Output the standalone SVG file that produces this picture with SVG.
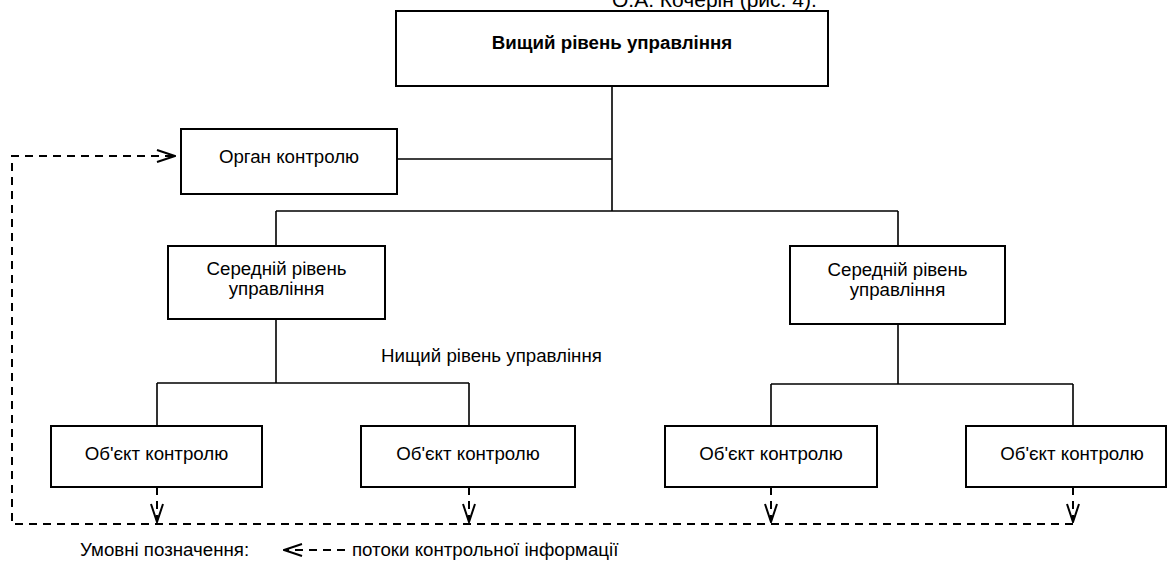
<svg xmlns="http://www.w3.org/2000/svg" width="1168" height="564" viewBox="0 0 1168 564">
<style>
  .box{fill:#fff;stroke:#000;stroke-width:2}
  .t{font-family:"Liberation Sans",Arial,sans-serif;font-size:18.7px;fill:#000}
  .c{text-anchor:middle}
  .b{font-weight:bold}
  .ln{fill:none;stroke:#000;stroke-width:1.6}
  .dash{fill:none;stroke:#000;stroke-width:2;stroke-dasharray:8 6}
</style>
<defs>
  <marker id="chev" viewBox="0 0 20 14" refX="19" refY="7" markerWidth="20" markerHeight="14" markerUnits="userSpaceOnUse" orient="auto">
    <path d="M1,1 L19,7 L1,13" fill="none" stroke="#000" stroke-width="2" stroke-dasharray="none"/>
  </marker>
</defs>
<rect width="1168" height="564" fill="#fff"/>
<text class="t" x="612" y="7" style="font-size:21px">О.А. Кочерін (рис. 4).</text>
<g id="connectors">
  <path class="ln" d="M612 86V211M397 159H612M276 211H898M276 211V246M898 211V246"/>
  <path class="ln" d="M276 319V383M157 383H469M157 383V426M469 383V426"/>
  <path class="ln" d="M898 324V384M771 384H1073M771 384V426M1073 384V426"/>
  <path class="dash" d="M1073 524H12V156H175" marker-end="url(#chev)"/>
  <path class="dash" d="M157 487V522" marker-end="url(#chev)"/>
  <path class="dash" d="M469 487V522" marker-end="url(#chev)"/>
  <path class="dash" d="M771 487V522" marker-end="url(#chev)"/>
  <path class="dash" d="M1073 487V522" marker-end="url(#chev)"/>
</g>
<g id="top"><rect class="box" x="396" y="11" width="432" height="75"/><text class="t c b" x="612" y="49">Вищий рівень управління</text></g>
<g id="organ"><rect class="box" x="181" y="129" width="216" height="65"/><text class="t c" x="289" y="163">Орган контролю</text></g>
<g id="mid1"><rect class="box" x="168" y="246" width="217" height="73"/><text class="t c" x="276.5" y="275">Середній рівень</text><text class="t c" x="276.5" y="295">управління</text></g>
<g id="mid2"><rect class="box" x="790" y="246" width="215" height="78"/><text class="t c" x="897.5" y="276">Середній рівень</text><text class="t c" x="897.5" y="296">управління</text></g>
<g id="low"><text class="t" x="381" y="362">Нищий рівень управління</text></g>
<g id="obj1"><rect class="box" x="51" y="426" width="211" height="61"/><text class="t c" x="156.5" y="460">Об'єкт контролю</text></g>
<g id="obj2"><rect class="box" x="361" y="426" width="214" height="61"/><text class="t c" x="468" y="460">Об'єкт контролю</text></g>
<g id="obj3"><rect class="box" x="665" y="426" width="212" height="61"/><text class="t c" x="771" y="460">Об'єкт контролю</text></g>
<g id="obj4"><rect class="box" x="966" y="426" width="200" height="61"/><text class="t c" x="1072" y="460">Об'єкт контролю</text></g>
<g id="legend">
  <text class="t" x="80" y="556">Умовні позначення:</text>
  <path class="dash" d="M345 550H284" marker-end="url(#chev)"/>
  <text class="t" x="352" y="556">потоки контрольної інформації</text>
</g>
</svg>
